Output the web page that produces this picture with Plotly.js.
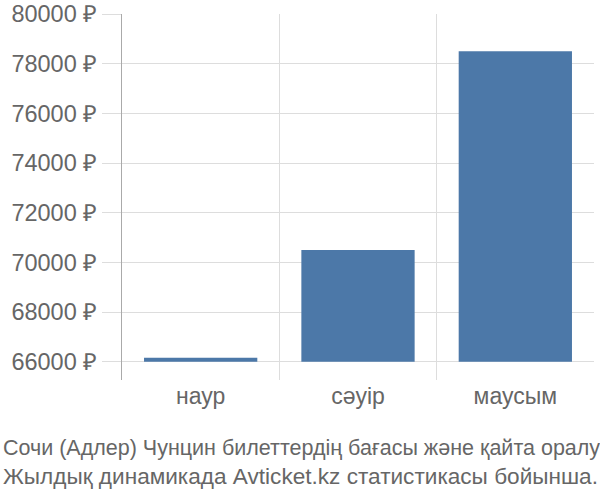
<!DOCTYPE html>
<html>
<head>
<meta charset="utf-8">
<script src="https://cdn.plot.ly/plotly-3.0.1.min.js"></script>
<style>html,body{margin:0;padding:0;background:#fff;}#chart{width:600px;height:500px;}</style>
</head>
<body>
<div id="chart"></div>
<script>
const categories = ["наур", "сәуір", "маусым"];
const prices = [66170, 70500, 78500];
const baseline = 66000;
const tickValues = [66000, 68000, 70000, 72000, 74000, 76000, 78000, 80000];
const tickLabels = ["66000 ₽", "68000 ₽", "70000 ₽", "72000 ₽", "74000 ₽", "76000 ₽", "78000 ₽", "80000 ₽"];
const captionLines = ["Сочи (Адлер) Чунцин билеттердің бағасы және қайта оралу", "Жылдық динамикада Avticket.kz статистикасы бойынша."];
const captionSizes = [21.5, 22.6];

const W = 600, H = 500;
const m = {l: 122, r: 6, t: 14, b: 120};
const pw = W - m.l - m.r, ph = H - m.t - m.b;

const trace = {
  type: 'bar',
  x: categories,
  y: prices.map(v => v - baseline),
  base: categories.map(() => baseline),
  marker: {color: '#4c78a8'},
  width: 0.72,
  hoverinfo: 'skip'
};

const layout = {
  width: W, height: H,
  margin: m,
  paper_bgcolor: '#fff', plot_bgcolor: '#fff',
  font: {family: 'Liberation Sans, Arial, sans-serif', color: '#666'},
  showlegend: false,
  xaxis: {
    type: 'category',
    tickson: 'boundaries',
    showgrid: true, gridcolor: '#dddddd', gridwidth: 1,
    ticks: 'outside', ticklen: 0,
    tickfont: {size: 23, color: '#666'},
    showline: false, zeroline: false,
    range: [-0.5, 2.5]
  },
  yaxis: {
    range: [65270, 80000],
    tickvals: tickValues,
    ticktext: tickLabels,
    ticks: 'outside', ticklen: 19, tickcolor: '#dddddd',
    showgrid: true, gridcolor: '#dddddd', gridwidth: 1,
    showline: true, linecolor: '#aaaaaa', linewidth: 1,
    zeroline: false,
    tickfont: {size: 23.5, color: '#666'}
  },
  annotations: captionLines.map((t, i) => ({
    text: t,
    xref: 'paper', yref: 'paper',
    x: (1 - m.l) / pw, xanchor: 'left',
    y: (H - m.b - (434 + i * 28)) / ph, yanchor: 'top',
    showarrow: false,
    font: {size: captionSizes[i], color: '#666'}
  }))
};

Plotly.newPlot('chart', [trace], layout, {displayModeBar: false, staticPlot: true});
</script>
</body>
</html>
